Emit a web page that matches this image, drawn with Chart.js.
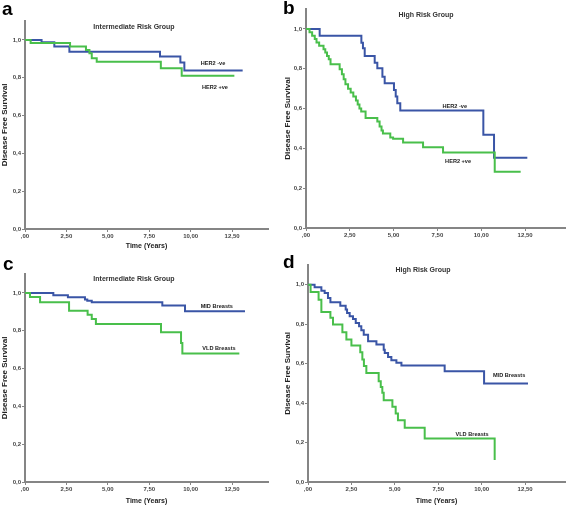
<!DOCTYPE html>
<html><head><meta charset="utf-8">
<script src="https://cdn.jsdelivr.net/npm/chart.js@4.4.0/dist/chart.umd.min.js"></script>
<style>
html,body{margin:0;padding:0;background:#fff;width:567px;height:507px;overflow:hidden}
canvas{position:absolute;display:block}
</style></head><body>
<canvas id="ca" width="283" height="253" style="left:0;top:0"></canvas>
<canvas id="cb" width="284" height="253" style="left:283px;top:0"></canvas>
<canvas id="cc" width="283" height="254" style="left:0;top:253px"></canvas>
<canvas id="cd" width="284" height="254" style="left:283px;top:253px"></canvas>
<script>
// Tick values and labels
const xTickValues = [0, 2.5, 5, 7.5, 10, 12.5];
const xTickLabels = [",00", "2,50", "5,00", "7,50", "10,00", "12,50"];
const yTickValues = [0, 0.2, 0.4, 0.6, 0.8, 1.0];
const yTickLabels = ["0,0", "0,2", "0,4", "0,6", "0,8", "1,0"];

// Panel a: Intermediate Risk Group, HER2
const aNegTime = [0, 1.0, 1.77, 2.68, 8.15, 9.38, 9.62, 13.14];
const aNegSurv = [1, 0.987, 0.965, 0.938, 0.912, 0.88, 0.838, 0.838];
const aPosTime = [0, 0.34, 2.72, 3.68, 3.89, 4.03, 4.33, 8.2, 9.46, 12.64];
const aPosSurv = [1, 0.983, 0.965, 0.947, 0.929, 0.903, 0.884, 0.85, 0.811, 0.811];

// Panel b: High Risk Group, HER2
const bNegTime = [0, 0.78, 3.16, 3.25, 3.35, 3.92, 4.07, 4.36, 4.49, 5.02, 5.12, 5.21, 5.38, 10.12, 10.73, 12.63];
const bNegSurv = [1, 0.966, 0.931, 0.903, 0.864, 0.83, 0.802, 0.76, 0.727, 0.693, 0.66, 0.627, 0.59, 0.469, 0.353, 0.353];
const bPosTime = [0, 0.2, 0.35, 0.5, 0.6, 0.75, 1.0, 1.1, 1.2, 1.3, 1.4, 1.92, 2.05, 2.15, 2.25, 2.4, 2.55, 2.7, 2.85, 2.95, 3.05, 3.15, 3.4, 4.07, 4.2, 4.31, 4.39, 4.81, 4.97, 5.54, 6.68, 7.82, 10.77, 12.25];
const bPosSurv = [1, 0.983, 0.966, 0.949, 0.932, 0.915, 0.898, 0.881, 0.864, 0.847, 0.822, 0.797, 0.772, 0.747, 0.722, 0.70, 0.68, 0.66, 0.64, 0.62, 0.60, 0.585, 0.553, 0.535, 0.51, 0.49, 0.475, 0.455, 0.448, 0.429, 0.405, 0.379, 0.283, 0.283];

// Panel c: Intermediate Risk Group, breast density
const cMidTime = [0, 1.71, 2.59, 3.62, 3.76, 4.03, 8.29, 9.66, 13.28];
const cMidSurv = [1, 0.988, 0.977, 0.965, 0.959, 0.95, 0.933, 0.903, 0.903];
const cVldTime = [0, 0.30, 0.91, 2.66, 3.78, 4.03, 4.28, 8.21, 9.42, 9.50, 12.94];
const cVldSurv = [1, 0.979, 0.951, 0.905, 0.885, 0.862, 0.836, 0.792, 0.735, 0.679, 0.679];

// Panel d: High Risk Group, breast density
const dMidTime = [0, 0.38, 0.77, 0.96, 1.15, 1.29, 1.86, 2.17, 2.25, 2.40, 2.59, 2.75, 2.94, 3.07, 3.21, 3.46, 3.94, 4.36, 4.42, 4.61, 4.80, 5.09, 5.38, 7.87, 10.14, 12.67];
const dMidSurv = [1, 0.987, 0.970, 0.958, 0.933, 0.911, 0.894, 0.874, 0.857, 0.840, 0.826, 0.806, 0.789, 0.769, 0.747, 0.713, 0.697, 0.671, 0.654, 0.634, 0.617, 0.604, 0.590, 0.562, 0.499, 0.499];
const dVldTime = [0, 0.15, 0.61, 0.77, 1.29, 1.44, 1.98, 2.21, 2.50, 3.01, 3.13, 3.22, 3.36, 4.07, 4.19, 4.28, 4.36, 4.86, 5.05, 5.18, 5.57, 6.72, 10.75];
const dVldSurv = [1, 0.963, 0.924, 0.862, 0.832, 0.798, 0.759, 0.722, 0.692, 0.658, 0.621, 0.588, 0.553, 0.511, 0.482, 0.452, 0.415, 0.381, 0.347, 0.313, 0.275, 0.221, 0.111];

const BLUE = '#3a55a6';
const GREEN = '#49bf4b';
const AXIS = '#858585';
const FONT = '"Liberation Sans", Arial, sans-serif';

function pts(t, s) { return t.map((v, i) => ({x: v, y: s[i]})); }

const annot = {
  id: 'annot',
  afterDatasetsDraw(chart, args, o) {
    const ctx = chart.ctx, xs = chart.scales.x, ys = chart.scales.y;
    ctx.save();
    ctx.fillStyle = '#000';
    ctx.font = 'bold 19px ' + FONT;
    ctx.textAlign = 'left'; ctx.textBaseline = 'alphabetic';
    ctx.fillText(o.letter, o.letterX, o.letterY);
    ctx.fillStyle = '#333';
    ctx.font = 'bold 7px ' + FONT;
    ctx.textAlign = 'center'; ctx.textBaseline = 'middle';
    ctx.fillText(o.title, o.titleX, o.titleY);
    ctx.fillStyle = '#222';
    ctx.font = 'bold 5.6px ' + FONT;
    o.labels.forEach(l => ctx.fillText(l.text, xs.getPixelForValue(l.x), ys.getPixelForValue(l.y)));
    ctx.restore();
  }
};

function makeChart(id, cfg) {
  const ds = [
    {data: pts(cfg.gT, cfg.gS), borderColor: GREEN},
    {data: pts(cfg.bT, cfg.bS), borderColor: BLUE}
  ].map(d => Object.assign(d, {stepped: true, borderWidth: 2, pointRadius: 0, fill: false, tension: 0, clip: false}));
  new Chart(document.getElementById(id), {
    type: 'line',
    data: {datasets: ds},
    plugins: [annot],
    options: {
      responsive: false, animation: false, devicePixelRatio: 1,
      layout: {padding: {top: cfg.padTop, right: cfg.padRight, left: 0, bottom: 0}},
      plugins: {
        legend: {display: false}, tooltip: {enabled: false},
        annot: {letter: cfg.letter, letterX: cfg.letterX, letterY: cfg.letterY, title: cfg.title, titleX: cfg.titleX, titleY: cfg.titleY, labels: cfg.labels}
      },
      scales: {
        x: {
          type: 'linear', min: 0, max: cfg.xMax,
          afterBuildTicks: s => { s.ticks = xTickValues.map(v => ({value: v})); },
          afterFit: s => { s.height = cfg.xHeight; },
          ticks: {callback: (v) => xTickLabels[xTickValues.indexOf(v)], font: {size: 6, weight: 'bold', family: FONT}, color: '#444', padding: 1, maxRotation: 0, autoSkip: false},
          grid: {drawOnChartArea: false, drawTicks: true, tickLength: 3, color: AXIS},
          border: {display: true, color: AXIS, width: 2},
          title: {display: cfg.xTitle, text: 'Time (Years)', font: {size: 7, weight: 'bold', family: FONT}, color: '#222', padding: {top: 0, bottom: cfg.xTitlePad}}
        },
        y: {
          type: 'linear', min: 0, max: 1.1,
          afterBuildTicks: s => { s.ticks = yTickValues.map(v => ({value: v})); },
          afterFit: s => { s.width = cfg.yWidth; },
          ticks: {callback: (v) => yTickLabels[yTickValues.findIndex(t => Math.abs(t - v) < 1e-9)], font: {size: 6, weight: 'bold', family: FONT}, color: '#444', padding: 1},
          grid: {drawOnChartArea: false, drawTicks: true, tickLength: 3, color: AXIS},
          border: {display: true, color: AXIS, width: 2},
          title: {display: true, text: 'Disease Free Survival', font: {size: 8, weight: 'bold', family: FONT}, color: '#222', padding: {top: 0, bottom: 0}}
        }
      }
    }
  });
}

makeChart('ca', {gT: aPosTime, gS: aPosSurv, bT: aNegTime, bS: aNegSurv,
  padTop: 21, padRight: 15, yWidth: 25, xHeight: 24, xMax: 14.67, xTitle: true, xTitlePad: 3,
  letter: 'a', letterX: 2, letterY: 15, title: 'Intermediate Risk Group', titleX: 134, titleY: 27,
  labels: [{text: 'HER2 -ve', x: 11.35, y: 0.878}, {text: 'HER2 +ve', x: 11.47, y: 0.751}]});

makeChart('cb', {gT: bPosTime, gS: bPosSurv, bT: bNegTime, bS: bNegSurv,
  padTop: 9, padRight: 2, yWidth: 23, xHeight: 25, xMax: 14.78, xTitle: false, xTitlePad: 0,
  letter: 'b', letterX: 0, letterY: 14, title: 'High Risk Group', titleX: 143, titleY: 15,
  labels: [{text: 'HER2 -ve', x: 8.49, y: 0.613}, {text: 'HER2 +ve', x: 8.68, y: 0.332}]});

makeChart('cc', {gT: cVldTime, gS: cVldSurv, bT: cMidTime, bS: cMidSurv,
  padTop: 21, padRight: 15, yWidth: 25, xHeight: 25, xMax: 14.67, xTitle: true, xTitlePad: 1.5,
  letter: 'c', letterX: 3, letterY: 17, title: 'Intermediate Risk Group', titleX: 134, titleY: 26,
  labels: [{text: 'MID Breasts', x: 11.58, y: 0.93}, {text: 'VLD Breasts', x: 11.71, y: 0.704}]});

makeChart('cd', {gT: dVldTime, gS: dVldSurv, bT: dMidTime, bS: dMidSurv,
  padTop: 12, padRight: 2, yWidth: 25, xHeight: 25, xMax: 14.8, xTitle: true, xTitlePad: 1.8,
  letter: 'd', letterX: 0, letterY: 15, title: 'High Risk Group', titleX: 140, titleY: 17,
  labels: [{text: 'MID Breasts', x: 11.58, y: 0.542}, {text: 'VLD Breasts', x: 9.45, y: 0.241}]});
</script>
</body></html>
